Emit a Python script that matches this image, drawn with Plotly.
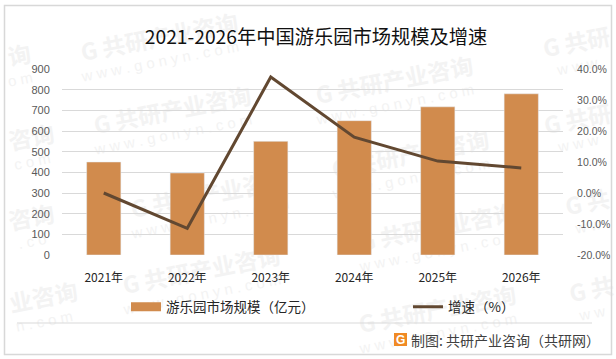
import plotly.graph_objects as go

W, H = 616, 359
L, R, T, B = 62, 53, 69, 104
PW, PH = W - L - R, H - T - B

categories = ["2021年", "2022年", "2023年", "2024年", "2025年", "2026年"]
market_size = [450, 397, 550, 650, 717, 780]
growth_pct = [0.0, -11.4, 37.4, 18.0, 10.3, 8.1]
size_ticks = [0, 100, 200, 300, 400, 500, 600, 700, 800, 900]
growth_ticks = [-20, -10, 0, 10, 20, 30, 40]
growth_labels = ["-20.0%", "-10.0%", "0.0%", "10.0%", "20.0%", "30.0%", "40.0%"]

BAR = "#D18B4D"
LINE = "#624831"
CJK = "Noto Sans CJK SC, Liberation Sans, sans-serif"
NUM = "Liberation Sans, Arial, sans-serif"


def px(x):
    return (x - L) / PW


def py(y):
    return (H - B - y) / PH


FULL = "G 共研产业咨询"
WWW = "w w w . g o n y n . c o m"
# watermark centre (pixels) and the visible part of its text
watermarks = [
    (160, 40, FULL, WWW), (173, 113, FULL, WWW), (395, 83, FULL, WWW), (411, 157, FULL, WWW),
    (202, 273, FULL, WWW), (438, 230, FULL, WWW), (438, 312, FULL, WWW), (210, 197, FULL, WWW),
    (20, 58, "询", "o m"), (32, 140, "咨询", "c o m"), (32, 220, "咨询", ". c o"), (44, 300, "业咨询", "n . c o m"),
    (577, 45, "G 共研", "w w w"), (578, 122, "G 共研", "w w w"), (588, 205, "G 共", "w w"), (592, 292, "G 共", "w w"),
]

fig = go.Figure()
fig.add_trace(go.Bar(x=categories, y=market_size, width=0.41, marker_color=BAR,
                     name="游乐园市场规模（亿元）", showlegend=False))
fig.add_trace(go.Scatter(x=[None], y=[None], mode="lines", name="游乐园市场规模（亿元）",
                         line=dict(color=BAR, width=9), legend="legend"))
fig.add_trace(go.Scatter(x=categories, y=growth_pct, yaxis="y2", mode="lines", name="增速（%）",
                         line=dict(color=LINE, width=3), legend="legend2"))

shapes = []
for cx, cy, head, tail in watermarks:
    shapes.append(dict(type="rect", xref="paper", yref="paper", x0=px(cx - 90), x1=px(cx + 90),
                       y0=py(cy + 14), y1=py(cy - 14), line=dict(width=0), layer="below",
                       label=dict(text="<b>" + head + "</b>", textangle=-11, textposition="middle center",
                                  font=dict(family=CJK, size=23, color="#f3f3f3"))))
    shapes.append(dict(type="rect", xref="paper", yref="paper", x0=px(cx - 75), x1=px(cx + 75),
                       y0=py(cy + 33), y1=py(cy + 7), line=dict(width=0), layer="below",
                       label=dict(text=tail, textangle=-11, textposition="middle center",
                                  font=dict(family=NUM, size=15, color="#f3f3f3"))))
shapes += [
    dict(type="rect", xref="paper", yref="paper", x0=px(4.5), x1=px(611.5), y0=py(354.5), y1=py(5.5),
         line=dict(color="#d8d8d8", width=1.5), fillcolor="rgba(0,0,0,0)", layer="above"),
    dict(type="line", xref="paper", yref="paper", x0=px(17), x1=px(592), y0=py(323), y1=py(323),
         line=dict(color="#d9d9d9", width=1), layer="above"),
    dict(type="rect", xref="paper", yref="paper", x0=px(394), x1=px(407), y0=py(346), y1=py(333),
         line=dict(width=0), fillcolor="#F08A24", layer="above"),
]

legend_common = dict(orientation="h", yanchor="middle", bgcolor="rgba(0,0,0,0)",
                     font=dict(family=CJK, size=13.5, color="#262626"), itemwidth=30)

fig.update_layout(
    width=W, height=H, autosize=False,
    margin=dict(l=L, r=R, t=T, b=B, autoexpand=False),
    paper_bgcolor="white", plot_bgcolor="rgba(0,0,0,0)",
    showlegend=True,
    title=dict(text="2021-2026年中国游乐园市场规模及增速", x=316 / W, xanchor="center",
               y=1 - 37 / H, yanchor="middle", font=dict(family=CJK, size=19.25, color="#111111")),
    xaxis=dict(type="category", range=[-0.5, 5.5], showgrid=False, showline=False, ticks="outside", ticklen=12,
               tickcolor="rgba(0,0,0,0)", tickfont=dict(family=CJK, size=12, color="#262626")),
    yaxis=dict(range=[0, 900], tickvals=size_ticks, showline=False, zeroline=False,
               gridcolor="#d9d9d9", gridwidth=1,
               ticks="outside", ticklen=9, tickcolor="rgba(0,0,0,0)",
               tickfont=dict(family=NUM, size=11, color="#595959")),
    yaxis2=dict(range=[-20, 40], tickvals=growth_ticks, ticktext=growth_labels, overlaying="y", side="right",
                showgrid=False, zeroline=False, showline=False,
                ticks="outside", ticklen=11, tickcolor="rgba(0,0,0,0)",
                tickfont=dict(family=NUM, size=10.5, color="#595959")),
    legend=dict(x=px(126), y=py(307), **legend_common),
    legend2=dict(x=px(408), y=py(307), **legend_common),
    shapes=shapes,
    annotations=[
        dict(text="<b>G</b>", xref="paper", yref="paper", x=px(400.5), y=py(339.5), xanchor="center",
             yanchor="middle", showarrow=False, font=dict(family=NUM, size=12, color="white")),
        dict(text="制图: 共研产业咨询（共研网）", xref="paper", yref="paper", x=px(409), y=py(340),
             xanchor="left", yanchor="middle", showarrow=False, font=dict(family=CJK, size=14, color="#404040")),
    ],
)
fig.write_html("out.html", config=dict(displayModeBar=False), post_script="document.body.style.margin='0';")
